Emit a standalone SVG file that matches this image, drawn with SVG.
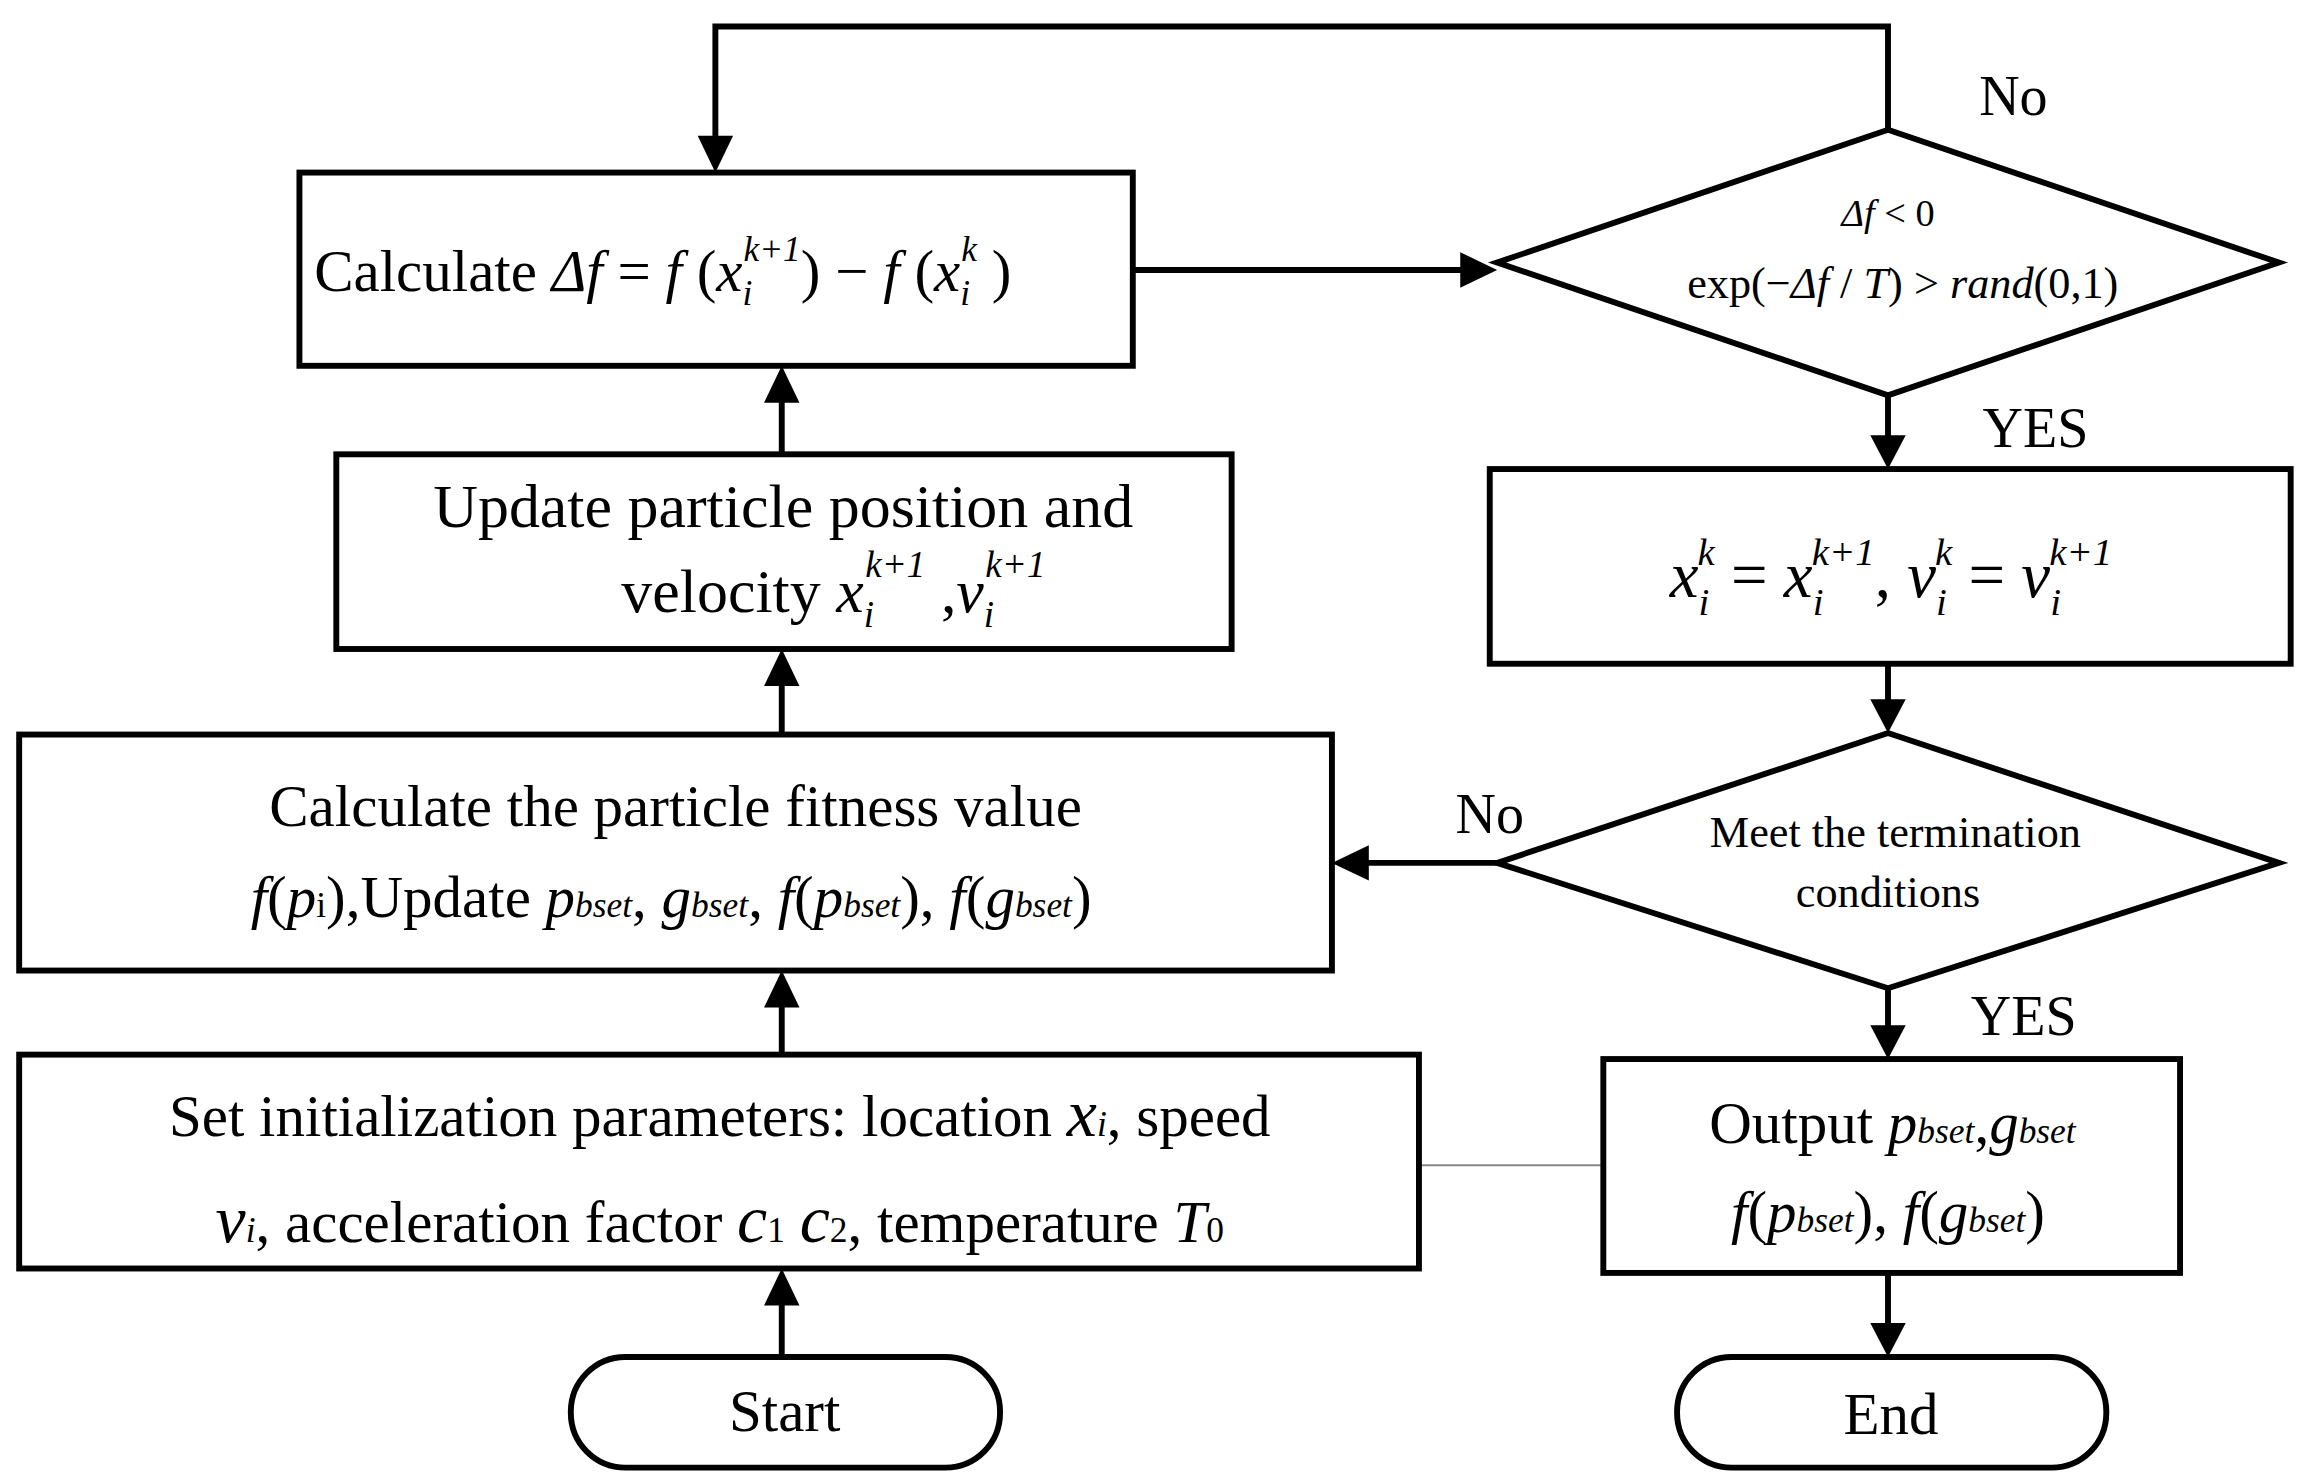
<svg xmlns="http://www.w3.org/2000/svg" width="2304" height="1483" viewBox="0 0 2304 1483">
<defs>
<style>
.box{fill:#fff;stroke:#000;stroke-width:4}
.c{fill:none;stroke:#000;stroke-width:4}
text{font-family:"Liberation Serif","Times New Roman",serif;fill:#000}
.m{text-anchor:middle}
.i{font-style:italic}
.s{font-size:60%}
</style>
</defs>
<rect width="2304" height="1483" fill="#fff"/>
<g transform="scale(1.475)">
<g id="connectors">
<path class="c" d="M1280,88 V18 H485 V95"/><path d="M473,92 L485,117 L497,92 z"/>
<path class="c" d="M768,183 H995"/><path d="M990,171 L1015,183 L990,195 z"/>
<path class="c" d="M1280,268 V298"/><path d="M1268,295 L1280,318 L1292,295 z"/>
<path class="c" d="M1280,450 V477"/><path d="M1268,474 L1280,497 L1292,474 z"/>
<path class="c" d="M1015,585 H925"/><path d="M928,573 L903,585 L928,597 z"/>
<path class="c" d="M1280,670 V698"/><path d="M1268,695 L1280,718 L1292,695 z"/>
<path class="c" d="M1280,863 V900"/><path d="M1268,897 L1280,920 L1292,897 z"/>
<path class="c" d="M530,920 V882"/><path d="M518,885 L530,860 L542,885 z"/>
<path class="c" d="M530,715 V680"/><path d="M518,683 L530,658 L542,683 z"/>
<path class="c" d="M530,498 V462"/><path d="M518,465 L530,440 L542,465 z"/>
<path class="c" d="M530,308 V270"/><path d="M518,273 L530,248 L542,273 z"/>
<path d="M962,790 H1087" stroke="#888" stroke-width="1.5" fill="none"/>
<text x="1365" y="78" class="m" font-size="38">No</text>
<text x="1380" y="303" class="m" font-size="38">YES</text>
<text x="1010" y="565" class="m" font-size="38">No</text>
<text x="1372" y="702" class="m" font-size="38">YES</text>
</g>
<g id="calc">
<rect class="box" x="203" y="117" width="565" height="131"/>
<text x="213" y="197" font-size="40">Calculate  <tspan class="i">Δf</tspan> = <tspan class="i">f</tspan> (<tspan class="i">x</tspan><tspan class="s i" dy="10">i</tspan><tspan class="s i" dx="-6" dy="-30">k+1</tspan><tspan dy="20">) − </tspan><tspan class="i">f</tspan> (<tspan class="i">x</tspan><tspan class="s i" dy="10">i</tspan><tspan class="s i" dx="-6" dy="-30">k</tspan><tspan dy="20"> )</tspan></text>
</g>
<g id="dec1">
<polygon class="box" points="1280,88 1545,178 1280,268 1015,178"/>
<text x="1280" y="153" class="m" font-size="26"><tspan class="i">Δf</tspan> &lt; 0</text>
<text x="1290" y="202" class="m" font-size="30">exp(−<tspan class="i">Δf</tspan> / <tspan class="i">T</tspan>) &gt; <tspan class="i">rand</tspan>(0,1)</text>
</g>
<g id="assign">
<rect class="box" x="1010" y="318" width="543" height="132"/>
<text x="1282" y="405" class="m" font-size="44"><tspan class="i">x</tspan><tspan class="s i" dy="12">i</tspan><tspan class="s i" dx="-8" dy="-34">k</tspan><tspan dy="22"> = </tspan><tspan class="i">x</tspan><tspan class="s i" dy="12">i</tspan><tspan class="s i" dx="-8" dy="-34">k+1</tspan><tspan dy="22">, </tspan><tspan class="i">v</tspan><tspan class="s i" dy="12">i</tspan><tspan class="s i" dx="-8" dy="-34">k</tspan><tspan dy="22"> = </tspan><tspan class="i">v</tspan><tspan class="s i" dy="12">i</tspan><tspan class="s i" dx="-8" dy="-34">k+1</tspan></text>
</g>
<g id="dec2">
<polygon class="box" points="1280,497 1545,585 1280,670 1015,585"/>
<text x="1285" y="574" class="m" font-size="30">Meet the termination</text>
<text x="1280" y="615" class="m" font-size="30">conditions</text>
</g>
<g id="update">
<rect class="box" x="228" y="308" width="607" height="132"/>
<text x="531" y="357" class="m" font-size="42">Update particle position and</text>
<text x="565" y="415" class="m" font-size="42">velocity <tspan class="i">x</tspan><tspan class="s i" dy="10">i</tspan><tspan class="s i" dx="-6" dy="-34">k+1</tspan><tspan dy="24">  ,</tspan><tspan class="i">v</tspan><tspan class="s i" dy="10">i</tspan><tspan class="s i" dx="-6" dy="-34">k+1</tspan></text>
</g>
<g id="fitness">
<rect class="box" x="13" y="498" width="890" height="160"/>
<text x="458" y="560" class="m" font-size="40">Calculate the particle fitness value</text>
<text x="455" y="622" class="m" font-size="40"><tspan class="i">f</tspan>(<tspan class="i">p</tspan><tspan class="s">i</tspan>),Update <tspan class="i">p</tspan><tspan class="s i">bset</tspan>, <tspan class="i">g</tspan><tspan class="s i">bset</tspan>, <tspan class="i">f</tspan>(<tspan class="i">p</tspan><tspan class="s i">bset</tspan>), <tspan class="i">f</tspan>(<tspan class="i">g</tspan><tspan class="s i">bset</tspan>)</text>
</g>
<g id="init">
<rect class="box" x="13" y="715" width="949" height="145"/>
<text x="488" y="770" class="m" font-size="40">Set initialization parameters: location <tspan class="i" font-size="46">x</tspan><tspan class="s i">i</tspan>, speed</text>
<text x="488" y="842" class="m" font-size="40"><tspan class="i" font-size="46">v</tspan><tspan class="s i">i</tspan>, acceleration factor <tspan class="i" font-size="46">c</tspan><tspan class="s">1</tspan> <tspan class="i" font-size="46">c</tspan><tspan class="s">2</tspan>, temperature <tspan class="i">T</tspan><tspan class="s">0</tspan></text>
</g>
<g id="output">
<rect class="box" x="1087" y="718" width="391" height="145"/>
<text x="1283" y="775" class="m" font-size="40">Output <tspan class="i">p</tspan><tspan class="s i">bset</tspan>,<tspan class="i">g</tspan><tspan class="s i">bset</tspan></text>
<text x="1280" y="835" class="m" font-size="40"><tspan class="i">f</tspan>(<tspan class="i">p</tspan><tspan class="s i">bset</tspan>), <tspan class="i">f</tspan>(<tspan class="i">g</tspan><tspan class="s i">bset</tspan>)</text>
</g>
<g id="start">
<rect class="box" x="387" y="920" width="291" height="75" rx="37"/>
<text x="532" y="970" class="m" font-size="40">Start</text>
</g>
<g id="end">
<rect class="box" x="1137" y="920" width="291" height="75" rx="37"/>
<text x="1282" y="972" class="m" font-size="40">End</text>
</g>
</g>
</svg>
